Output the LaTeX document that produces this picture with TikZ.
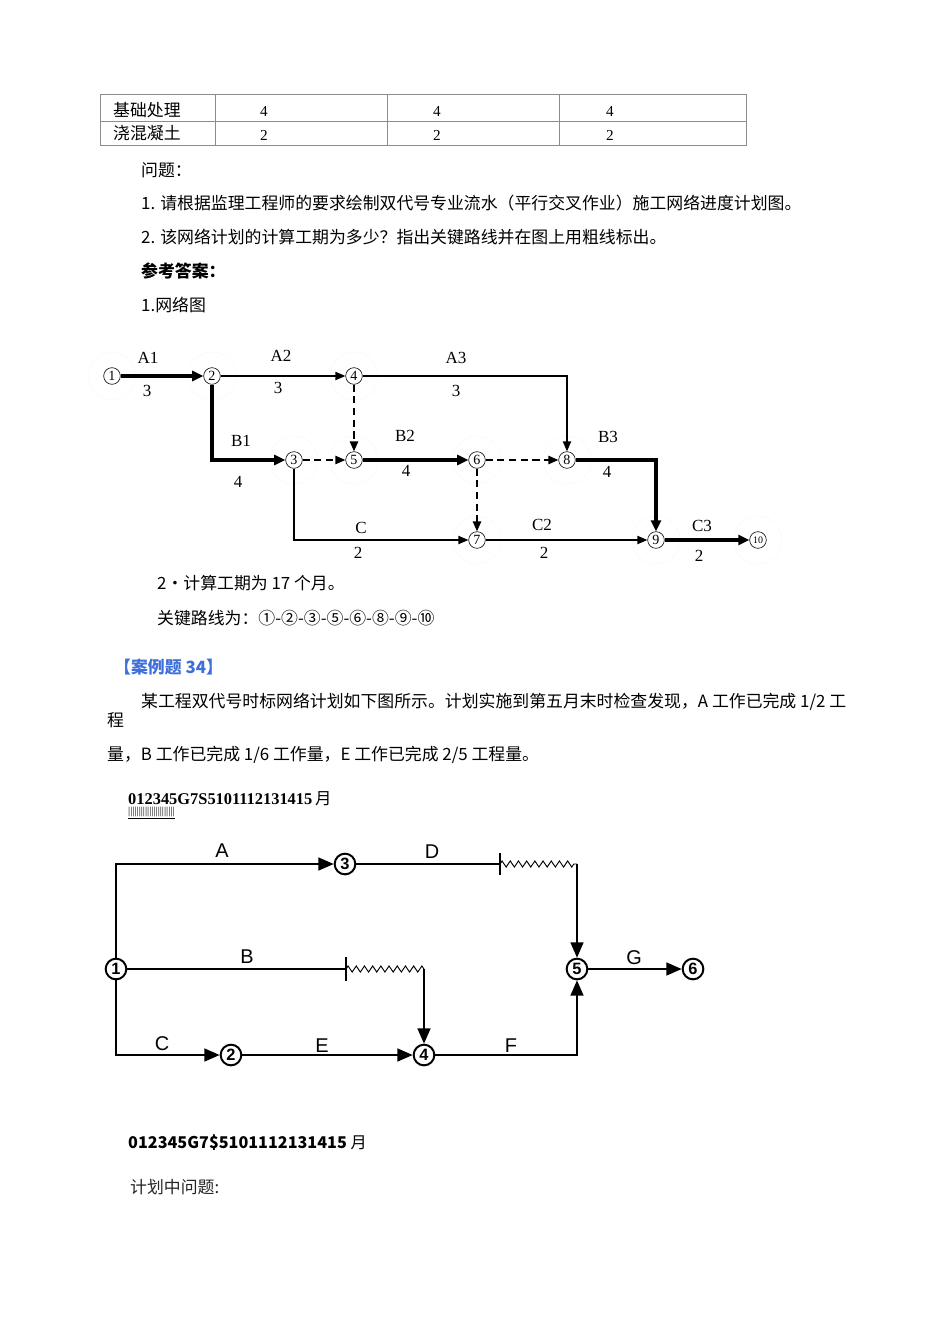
\documentclass[tikz,border=0pt]{standalone}
\usepackage{fontspec}
\setmainfont{Liberation Serif}
\newfontfamily\cjk{Noto Sans CJK SC}
\newfontfamily\plain{Liberation Sans}
\definecolor{caseblue}{HTML}{3F6FDB}
\definecolor{rulegray}{HTML}{8C8C8C}
\definecolor{halogray}{HTML}{EDEDED}
\usetikzlibrary{arrows.meta, positioning, decorations.pathmorphing}

\begin{document}
\begin{tikzpicture}[
    x=0.03cm, y=-0.03cm,
    body/.style={anchor=west, inner sep=0pt, font=\cjk\fontsize{14.4}{17}\selectfont},
    num/.style={inner sep=0pt, font=\fontsize{13}{13}\selectfont},
    evt/.style={circle, draw, line width=0.5pt, inner sep=0pt,
                minimum size=0.5cm, font=\fontsize{12}{12}\selectfont},
    lbl/.style={inner sep=0pt, font=\fontsize{14.5}{14.5}\selectfont},
    plainarr/.style={line width=1.1pt, -{Triangle[length=8.5pt, width=7pt]}},
    critarr/.style={line width=3.2pt, -{Triangle[length=9.5pt, width=8.5pt]}},
    dummyarr/.style={line width=1.6pt, dash pattern=on 6pt off 4pt,
                     -{Triangle[length=8.5pt, width=7pt]}},
    ev2/.style={circle, draw, line width=1.7pt, inner sep=0pt,
                minimum size=0.62cm, font=\plain\bfseries\fontsize{14}{14}\selectfont},
    lbl2/.style={inner sep=0pt, font=\plain\fontsize{17}{17}\selectfont},
    link2/.style={line width=1.3pt},
    arr2/.style={line width=1.3pt, -{Triangle[length=13pt, width=11pt]}},
    float2/.style={line width=0.8pt, decorate,
                   decoration={zigzag, segment length=7pt, amplitude=2.6pt}}
  ]
    \fill[white] (0,0) rectangle (950,1344);
    \useasboundingbox (0,0) rectangle (950,1344);

    \draw[rulegray, line width=0.6pt] (100,94) rectangle (746,145);
    \draw[rulegray, line width=0.6pt] (100,121) -- (746,121);
    \foreach \x in {215,387,559}
      \draw[rulegray, line width=0.6pt] (\x,94) -- (\x,145);
    \node[body] (row1) at (113,110) {基础处理};
    \node[body] (row2) at (113,133) {浇混凝土};
    \node[num] (r1a) at (264,111) {4};
    \node[num] (r1b) at (437,111) {4};
    \node[num] (r1c) at (610,111) {4};
    \node[num] (r2a) at (264,135) {2};
    \node[num] (r2b) at (437,135) {2};
    \node[num] (r2c) at (610,135) {2};

    \node[body] (q0) at (141,170) {问题：};
    \node[body] (q1) at (141,203)
      {1. 请根据监理工程师的要求绘制双代号专业流水（平行交叉作业）施工网络进度计划图。};
    \node[body] (q2) at (141,237)
      {2. 该网络计划的计算工期为多少？指出关键路线并在图上用粗线标出。};
    \node[body, font=\cjk\bfseries\fontsize{14.4}{17}\selectfont] (ans) at (141,271) {参考答案：};
    \node[body] (a1) at (141,305) {1.网络图};

    \node[evt] (n1) at (112,376) {1};
    \node[evt] (n2) at (212,376) {2};
    \node[evt] (n4) at (354,376) {4};
    \node[evt] (n3) at (294,460) {3};
    \node[evt] (n5) at (354,460) {5};
    \node[evt] (n6) at (477,460) {6};
    \node[evt] (n8) at (567,460) {8};
    \node[evt] (n7) at (477,540) {7};
    \node[evt] (n9) at (656,540) {9};
    \node[evt, font=\fontsize{8.5}{8.5}\selectfont] (n10) at (758,540) {10};
    \foreach \n in {n1,n2,n3,n4,n5,n6,n7,n8,n9,n10}
      \draw[halogray, densely dotted] (\n) circle[radius=24];

    \draw[critarr] (n1) -- (n2);
    \draw[plainarr] (n2) -- (n4);
    \draw[plainarr] (n4) -| (n8);
    \draw[critarr] (n2) |- (n3);
    \draw[dummyarr] (n4) -- (n5);
    \draw[dummyarr] (n3) -- (n5);
    \draw[critarr] (n5) -- (n6);
    \draw[dummyarr] (n6) -- (n8);
    \draw[dummyarr] (n6) -- (n7);
    \draw[plainarr] (n3) |- (n7);
    \draw[plainarr] (n7) -- (n9);
    \draw[critarr] (n8) -| (n9);
    \draw[critarr] (n9) -- (n10);

    \node[lbl] (la1) at (148,358) {A1};
    \node[lbl] (da1) at (147,391) {3};
    \node[lbl] (la2) at (281,356) {A2};
    \node[lbl] (da2) at (278,388) {3};
    \node[lbl] (la3) at (456,358) {A3};
    \node[lbl] (da3) at (456,391) {3};
    \node[lbl] (lb1) at (241,441) {B1};
    \node[lbl] (db1) at (238,482) {4};
    \node[lbl] (lb2) at (405,436) {B2};
    \node[lbl] (db2) at (406,471) {4};
    \node[lbl] (lb3) at (608,437) {B3};
    \node[lbl] (db3) at (607,472) {4};
    \node[lbl] (lc1) at (361,528) {C};
    \node[lbl] (dc1) at (358,553) {2};
    \node[lbl] (lc2) at (542,525) {C2};
    \node[lbl] (dc2) at (544,553) {2};
    \node[lbl] (lc3) at (702,526) {C3};
    \node[lbl] (dc3) at (699,556) {2};

    \node[body] (t1) at (157,583) {2•计算工期为 17 个月。};
    \node[body] (t2) at (157,618) {关键路线为：①-②-③-⑤-⑥-⑧-⑨-⑩};
    \node[body, text=caseblue, font=\cjk\bfseries\fontsize{14.4}{17}\selectfont]
      (case) at (114,667) {【案例题 34】};
    \node[body] (p1) at (141,702)
      {某工程双代号时标网络计划如下图所示。计划实施到第五月末时检查发现，A 工作已完成 1/2 工};
    \node[body] (p2) at (107,720) {程};
    \node[body] (p3) at (107,755) {量，B 工作已完成 1/6 工作量，E 工作已完成 2/5 工程量。};

    \node[body, font=\bfseries\fontsize{14}{16}\selectfont] (scale1) at (128,799)
      {012345G7S5101112131415\,{\cjk\mdseries 月}};
    \node[body, font=\fontsize{9}{9}\selectfont] (ticks) at (128,813)
      {\underline{||||||||||||||||||||||}};

    \node[ev2] (m1) at (116,969) {1};
    \node[ev2] (m3) at (345,864) {3};
    \node[ev2] (m5) at (577,969) {5};
    \node[ev2] (m6) at (693,969) {6};
    \node[ev2] (m2) at (231,1055) {2};
    \node[ev2] (m4) at (424,1055) {4};
    \coordinate (tD) at (500,864);
    \coordinate (zD) at (577,864);
    \coordinate (tB) at (346,969);
    \coordinate (zB) at (424,969);

    \draw[arr2] (m1) |- (m3);
    \draw[link2] (m3) -- (tD);
    \draw[link2] ([yshift=-9]tD) -- ([yshift=9]tD);
    \draw[float2] (tD) -- (zD);
    \draw[arr2] (zD) -- (m5);
    \draw[link2] (m1) -- (tB);
    \draw[link2] ([yshift=-10]tB) -- ([yshift=10]tB);
    \draw[float2] (tB) -- (zB);
    \draw[arr2] (zB) -- (m4);
    \draw[arr2] (m1) |- (m2);
    \draw[arr2] (m2) -- (m4);
    \draw[arr2] (m4) -| (m5);
    \draw[arr2] (m5) -- (m6);

    \node[lbl2] (wa) at (222,851) {A};
    \node[lbl2] (wd) at (432,852) {D};
    \node[lbl2] (wb) at (247,957) {B};
    \node[lbl2] (wc) at (162,1044) {C};
    \node[lbl2] (we) at (322,1046) {E};
    \node[lbl2] (wf) at (511,1046) {F};
    \node[lbl2] (wg) at (634,958) {G};

    \node[body, font=\cjk\bfseries\fontsize{13.8}{17}\selectfont] (scale2) at (128,1143)
      {012345G7\$5101112131415 {\mdseries 月}};
    \node[body, text=black!85] (last) at (130,1187) {计划中问题:};
  \end{tikzpicture}
\end{document}
